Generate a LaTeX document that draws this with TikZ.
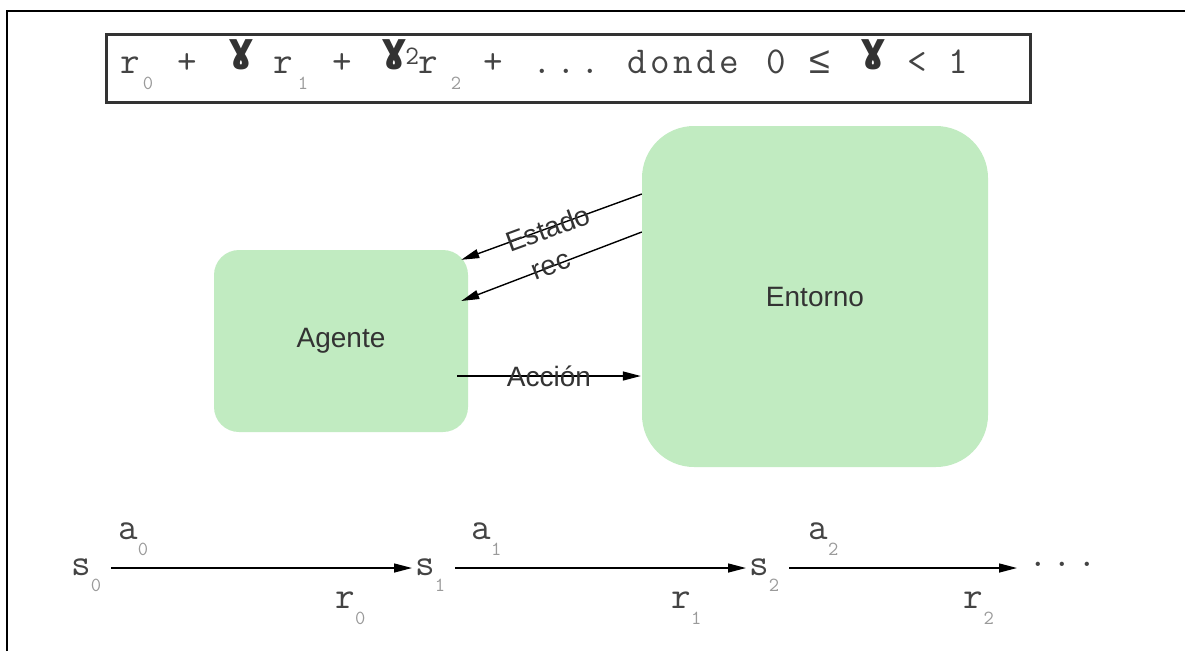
\documentclass[tikz,border=0pt]{standalone}
\usepackage{fontspec}
\setsansfont{Liberation Sans}
\newfontfamily\gamfont{DejaVu Sans}
\newfontfamily\relfont{Liberation Mono}
\usetikzlibrary{arrows.meta,positioning,calc}
\definecolor{leaf}{HTML}{C1EBC1}
\definecolor{ink}{HTML}{333333}
\definecolor{tt}{HTML}{444444}
\definecolor{subgray}{HTML}{9A9A9A}
\newcommand{\ix}[1]{\raisebox{-16pt}{\fontsize{20}{20}\selectfont\textcolor{subgray}{#1}}}
\newcommand{\gam}{\raisebox{12pt}{\gamfont\bfseries\fontsize{40}{40}\selectfont\textcolor{ink}{ɣ}}}
\newcommand{\tk}[2]{\makebox[#1pt][l]{#2}}
\tikzset{>=Latex,box/.style={fill=leaf,rounded corners=25pt,font=\sffamily\fontsize{28}{34}\selectfont,text=ink},arr/.style={-{Triangle[length=18pt,width=9pt]},line width=1.4pt},lbl/.style={font=\sffamily\fontsize{28}{34}\selectfont,text=ink,sloped},seq/.style={font=\ttfamily\fontsize{38}{40}\selectfont,text=tt,inner sep=3pt}}

\begin{document}
\begin{tikzpicture}[x=1pt,y=-1pt]
\useasboundingbox (0,0) rectangle (1185,651);
\draw[line width=2pt] (7,651) -- (7,11) -- (1185,11);
% suma descontada
\node[draw=ink,line width=2.5pt,anchor=north west,inner xsep=14pt,inner ysep=0pt,text width=896pt,align=left,text height=39pt,text depth=29pt,font=\ttfamily\fontsize{38}{40}\selectfont,text=tt] (suma) at (105,33) {\tk{22.5}{r}\tk{34.5}{\ix{0}}\tk{51}{+}\tk{45}{\gam}\tk{24.5}{r}\tk{34.5}{\ix{1}}\tk{49}{+}\tk{24}{\gam}\tk{13}{\textsuperscript{2}}\tk{32.5}{r}\tk{32.5}{\ix{2}}\tk{49}{+}\tk{24}{.}\tk{24}{.}\tk{47}{.}\tk{23}{d}\tk{23}{o}\tk{23}{n}\tk{23}{d}\tk{47}{e}\tk{42}{0}\tk{52}{{\relfont ≤}}\tk{47}{\gam}\tk{41}{<}1};
% agente y entorno
\node[box,minimum width=254pt,minimum height=182pt] (agente) at (341,341) {Agente};
\node[box,rounded corners=52pt,minimum width=346pt,minimum height=341pt] (entorno) at (815,296.5) {Entorno};
\draw[arr] ($(entorno.west)+(0,-102.5)$) -- node[lbl,pos=.52]{Estado} ($(agente.north east)+(-7,10)$);
\draw[arr] ($(entorno.west)+(0,-64.5)$) -- node[lbl]{rec} ($(agente.east)+(-7,-40)$);
\draw[arr] ($(agente.east)+(-11,35)$) -- node[lbl]{Acción} ($(entorno.west)+(-1,79.5)$);
% secuencia
\node[seq,anchor=base west] (s0) at (68,575) {s\ix{0}};
\node[seq,anchor=base west] (s1) at (412,575) {s\ix{1}};
\node[seq,anchor=base west] (s2) at (746,575) {s\ix{2}};
\node[seq,anchor=base west] (fin) at (1025,575) {\raisebox{9pt}{.\hspace{5pt}.\hspace{5pt}.}};
\draw[arr,shorten <=7pt] ([yshift=7pt]s0.base east) -- node[seq,pos=.094,anchor=base,yshift=29pt]{a\ix{0}} node[seq,pos=.8,anchor=base,yshift=-40pt]{r\ix{0}} ([yshift=7pt]s1.base west);
\draw[arr,shorten <=7pt] ([yshift=7pt]s1.base east) -- node[seq,pos=.128,anchor=base,yshift=29pt]{a\ix{1}} node[seq,pos=.8,anchor=base,yshift=-40pt]{r\ix{1}} ([yshift=7pt]s2.base west);
\draw[arr,shorten <=7pt,shorten >=8pt] ([yshift=7pt]s2.base east) -- node[seq,pos=.17,anchor=base,yshift=29pt]{a\ix{2}} node[seq,pos=.81,anchor=base,yshift=-40pt]{r\ix{2}} ([yshift=7pt]fin.base west);
\end{tikzpicture}
\end{document}
